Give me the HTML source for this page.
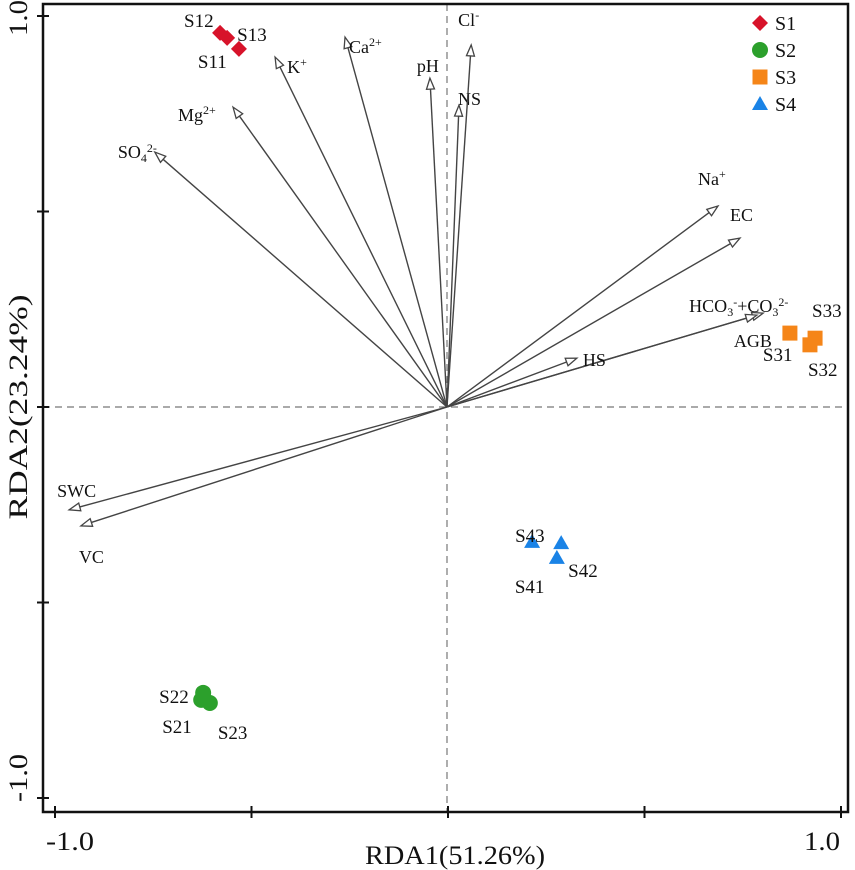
<!DOCTYPE html>
<html><head><meta charset="utf-8">
<style>
body{margin:0;background:#fff;}
svg{display:block;font-family:"Liberation Serif",serif;}
</style></head>
<body>
<svg id="chart" width="855" height="870" viewBox="0 0 855 870"></svg>
<script>
const siteNames = ["S11","S12","S13","S21","S22","S23","S31","S32","S33","S41","S42","S43"];
const siteGroup = ["S1","S1","S1","S2","S2","S2","S3","S3","S3","S4","S4","S4"];
const siteX = [-0.532,-0.580,-0.562,-0.628,-0.623,-0.606,0.870,0.921,0.934,0.277,0.288,0.214];
const siteY = [0.916,0.957,0.944,-0.749,-0.731,-0.757,0.189,0.159,0.176,-0.386,-0.348,-0.345];
const envNames = ["SO4","Mg","K","Ca","pH","NS","Cl","Na","EC","HCO3","AGB","HS","SWC","VC"];
const envX = [-0.746,-0.547,-0.440,-0.262,-0.046,0.028,0.059,0.687,0.743,0.802,0.786,0.328,-0.964,-0.934];
const envY = [0.652,0.767,0.895,0.946,0.841,0.772,0.926,0.514,0.432,0.240,0.235,0.125,-0.263,-0.304];
const xTicks = [-1,-0.5,0,0.5,1];
const yTicks = [1,0.5,0,-0.5,-1];

const NS="http://www.w3.org/2000/svg";
const svg=document.getElementById('chart');
function sx(v){return 448+v*393;}
function sy(v){return 407-v*391;}
function mk(tag,attrs,parent){const e=document.createElementNS(NS,tag);for(const k in attrs)e.setAttribute(k,attrs[k]);(parent||svg).appendChild(e);return e;}

let dv=mk('line',{x1:447,y1:4,x2:447,y2:812,stroke:'#777','stroke-width':1.2,'stroke-dasharray':'7,5'});


let dh=mk('line',{x1:43,y1:407,x2:848,y2:407,stroke:'#777','stroke-width':1.2,'stroke-dasharray':'7,5'});



let fr=mk('rect',{x:43,y:4,width:805,height:808,fill:'none',stroke:'#111','stroke-width':2.5});



xTicks.forEach(t=>{
  let l=mk('line',{x1:sx(t),y1:806,x2:sx(t),y2:818,stroke:'#111','stroke-width':2});
  
  
});
yTicks.forEach(t=>{
  let l=mk('line',{x1:37,y1:sy(t),x2:49,y2:sy(t),stroke:'#111','stroke-width':2});
  
  
});

function txt(s,x,y,size,name,anchor,len){const t=mk('text',{x:x,y:y,'font-size':size,fill:'#111','text-anchor':anchor||'start'});if(len){t.setAttribute('textLength',len);t.setAttribute('lengthAdjust','spacingAndGlyphs');}t.innerHTML=s;return t;}
txt('-1.0',70,850,26,'x-tick-label','middle',48);
txt('1.0',822,850,26,'x-tick-label','middle',36);
txt('RDA1(51.26%)',455,864,26,'x-axis-title','middle',180);
let yl=txt('RDA2(23.24%)',0,0,26,'y-axis-title','middle',225);yl.setAttribute('transform','translate(27,407) rotate(-90)');
let y1=txt('1.0',0,0,26,'y-tick-label','middle',36);y1.setAttribute('transform','translate(27,18) rotate(-90)');
let y2=txt('-1.0',0,0,26,'y-tick-label','middle',48);y2.setAttribute('transform','translate(27,778) rotate(-90)');

const envLabel={SO4:'SO<tspan font-size="12" dy="4">4</tspan><tspan font-size="12" dy="-10">2-</tspan>',Mg:'Mg<tspan font-size="12" dy="-7">2+</tspan>',K:'K<tspan font-size="12" dy="-7">+</tspan>',Ca:'Ca<tspan font-size="12" dy="-7">2+</tspan>',pH:'pH',NS:'NS',Cl:'Cl<tspan font-size="12" dy="-7">-</tspan>',Na:'Na<tspan font-size="12" dy="-7">+</tspan>',EC:'EC',HCO3:'HCO<tspan font-size="12" dy="4">3</tspan><tspan font-size="12" dy="-10">-</tspan><tspan dy="6">+CO</tspan><tspan font-size="12" dy="4">3</tspan><tspan font-size="12" dy="-10">2-</tspan>',AGB:'AGB',HS:'HS',SWC:'SWC',VC:'VC'};
const envOff={SO4:[-37,0],Mg:[-55,8],K:[12,10],Ca:[4,10],pH:[-13,-12],NS:[-1,-6],Cl:[-13,-25],Na:[-20,-27],EC:[-10,-23],HCO3:[-74,-7],AGB:[-23,26],HS:[6,2],SWC:[-12,-19],VC:[-2,31]};
envNames.forEach((n,i)=>{
  const x=sx(envX[i]),y=sy(envY[i]);
  const dx=x-447,dy=y-407,L=Math.hypot(dx,dy),ux=dx/L,uy=dy/L;
  const bx=x-ux*11,by=y-uy*11;
  let ln=mk('line',{x1:447,y1:407,x2:bx,y2:by,stroke:'#444','stroke-width':1.4});
  
  
  let hd=mk('polygon',{points:`${x},${y} ${bx-uy*4},${by+ux*4} ${bx+uy*4},${by-ux*4}`,fill:'#fff',stroke:'#444','stroke-width':1.3});
  
  
  const o=envOff[n];
  txt(envLabel[n],x+o[0],y+o[1]+6,18,'label-'+n.toLowerCase());
});

const colors={S1:'#d7132a',S2:'#2ca02c',S3:'#f58518',S4:'#1a83e6'};
function marker(g,x,y,name){
  let e;
  if(g==='S1') e=mk('polygon',{points:`${x},${y-8} ${x+8},${y} ${x},${y+8} ${x-8},${y}`,fill:colors[g]});
  else if(g==='S2') e=mk('circle',{cx:x,cy:y,r:8,fill:colors[g]});
  else if(g==='S3') e=mk('rect',{x:x-7.5,y:y-7.5,width:15,height:15,fill:colors[g]});
  else e=mk('polygon',{points:`${x},${y-8} ${x+8},${y+6} ${x-8},${y+6}`,fill:colors[g]});
  
  
  return e;
}
const siteOff={S11:[-41,19],S12:[-36,-6],S13:[10,3],S21:[-39,33],S22:[-44,10],S23:[8,36],S31:[-27,28],S32:[-2,31],S33:[-3,-21],S41:[-42,35],S42:[7,34],S43:[-17,0]};
siteNames.forEach((n,i)=>{
  const x=sx(siteX[i]),y=sy(siteY[i]);
  marker(siteGroup[i],x,y,'point-'+n.toLowerCase());
  const o=siteOff[n];
  txt(n,x+o[0],y+o[1],19,'label-'+n.toLowerCase());
});

["S1","S2","S3","S4"].forEach((g,i)=>{
  const y=23+i*27;
  marker(g,760,y,'legend-marker-'+g.toLowerCase());
  txt(g,775,y+7,20,'legend-entry-'+g.toLowerCase());
});
</script>
</body></html>
